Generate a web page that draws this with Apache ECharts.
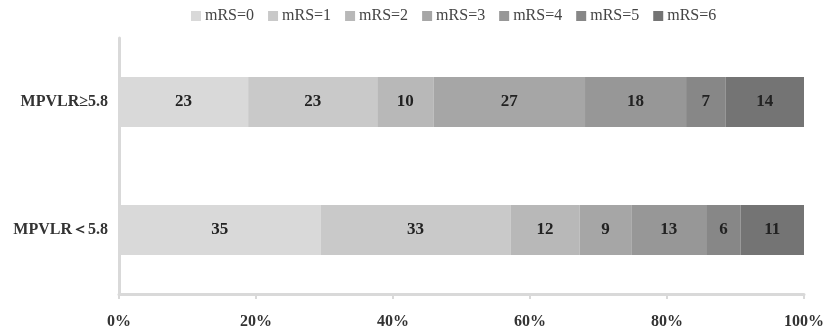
<!DOCTYPE html>
<html>
<head>
<meta charset="utf-8">
<script src="https://cdn.jsdelivr.net/npm/echarts@6/dist/echarts.min.js"></script>
<style>
  html, body { margin: 0; padding: 0; background: #fff; }
  #chart { width: 829px; height: 331px; }
</style>
</head>
<body>
<div id="chart"></div>
<script>
// groups, bottom first (category axis goes upward)
const groups = ["MPVLR＜5.8", "MPVLR≥5.8"];
const levels = ["mRS=0", "mRS=1", "mRS=2", "mRS=3", "mRS=4", "mRS=5", "mRS=6"];
// patient counts per mRS level, [MPVLR<5.8, MPVLR>=5.8]
const mrs0 = [35, 23];
const mrs1 = [33, 23];
const mrs2 = [12, 10];
const mrs3 = [9, 27];
const mrs4 = [13, 18];
const mrs5 = [6, 7];
const mrs6 = [11, 14];
const colors = ["#d9d9d9", "#c9c9c9", "#b8b8b8", "#a6a6a6", "#979797", "#878787", "#747474"];

const counts = [mrs0, mrs1, mrs2, mrs3, mrs4, mrs5, mrs6];
const totals = groups.map((g, i) => counts.reduce((s, c) => s + c[i], 0));

const font = "'Liberation Serif', 'Times New Roman', serif";

let myChart = echarts.init(document.getElementById("chart"));
myChart.setOption({
  animation: false,
  textStyle: { fontFamily: font },
  legend: {
    left: 186,
    top: 3,
    itemWidth: 10,
    itemHeight: 10,
    itemGap: 14,
    icon: "rect",
    textStyle: { fontFamily: font, fontSize: 16, color: "#444", padding: [0, 0, 0, -1] },
    data: levels,
  },
  grid: { left: 119, right: 25, top: 38, bottom: 37 },
  xAxis: {
    type: "value",
    min: 0,
    max: 100,
    interval: 20,
    axisLine: { show: true, lineStyle: { color: "#d9d9d9", width: 3 } },
    axisTick: { show: true, length: 5, lineStyle: { color: "#d9d9d9", width: 2 } },
    splitLine: { show: false },
    axisLabel: {
      formatter: "{value}%",
      margin: 20,
      fontFamily: font,
      fontSize: 16,
      fontWeight: "bold",
      color: "#333",
    },
  },
  yAxis: {
    type: "category",
    data: groups,
    axisLine: { show: true, lineStyle: { color: "#d9d9d9", width: 3 } },
    axisTick: { show: false },
    axisLabel: {
      margin: 11,
      fontFamily: font,
      fontSize: 16,
      fontWeight: "bold",
      color: "#333",
    },
  },
  series: levels.map((name, k) => ({
    name: name,
    type: "bar",
    stack: "total",
    barWidth: 50,
    itemStyle: { color: colors[k] },
    label: {
      show: true,
      position: "inside",
      formatter: (p) => counts[k][p.dataIndex],
      fontFamily: font,
      fontSize: 17,
      fontWeight: "bold",
      color: "#222",
    },
    data: counts[k].map((v, i) => (v / totals[i]) * 100),
  })),
});
</script>
</body>
</html>
